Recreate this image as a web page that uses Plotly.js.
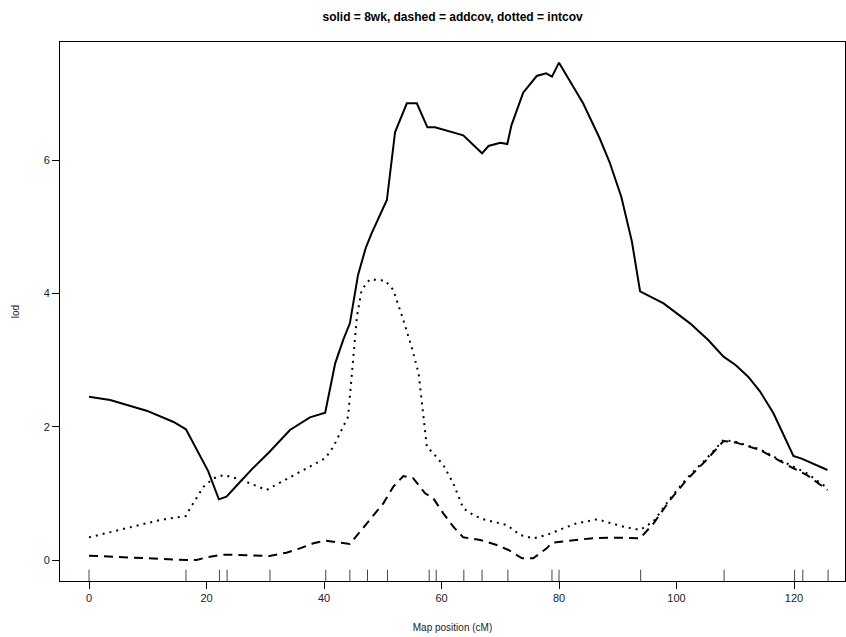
<!DOCTYPE html>
<html>
<head>
<meta charset="utf-8">
<script src="https://cdn.plot.ly/plotly-3.0.1.min.js"></script>
<style>
  html, body { margin: 0; padding: 0; background: #fff; }
  #chart { width: 846px; height: 637px; }
</style>
</head>
<body>
<div id="chart"></div>
<script>
// solid = 8wk
const solidPos = [0, 3.6, 9.8, 14.4, 16.5, 20.3, 22.1, 23.4, 25.7, 27.7, 30.7, 34.2, 37.6, 40.2,
  41.9, 43.3, 44.4, 45.8, 47.1, 48.1, 50.7, 52.1, 54.1, 55.8, 57.6, 58.9, 63.7, 66.9, 68.0, 70.0,
  71.2, 71.9, 73.9, 76.2, 77.8, 78.8, 80.0, 82.4, 84.1, 86.9, 88.6, 90.6, 92.4, 93.8, 97.8, 102.3,
  105.4, 108.0, 110.0, 112.2, 114.2, 116.5, 119.9, 121.3, 125.7];
const solidLod = [2.45, 2.40, 2.24, 2.07, 1.96, 1.33, 0.91, 0.95, 1.17, 1.36, 1.62, 1.95, 2.14, 2.21,
  2.95, 3.31, 3.55, 4.28, 4.68, 4.90, 5.40, 6.42, 6.85, 6.85, 6.49, 6.49, 6.37, 6.10, 6.21, 6.26,
  6.24, 6.52, 7.01, 7.26, 7.30, 7.25, 7.46, 7.10, 6.85, 6.33, 5.97, 5.45, 4.78, 4.03, 3.85, 3.55,
  3.30, 3.05, 2.93, 2.75, 2.53, 2.20, 1.56, 1.52, 1.35];

// dashed = addcov
const dashedPos = [0, 6.4, 12.1, 16.5, 18.3, 20.0, 22.3, 23.5, 30.7, 33.6, 35.9, 38.2, 40.2, 44.4,
  47.3, 50.1, 51.8, 53.5, 55.2, 57.2, 58.6, 60.3, 62.0, 63.7, 66.6, 69.4, 71.4, 73.7, 75.6, 77.9,
  78.8, 80.0, 86.0, 91.0, 93.8, 96.1, 98.9, 101.7, 105.1, 108.0, 110.2, 114.2, 117.6, 119.9, 122.2, 125.7];
const dashedLod = [0.065, 0.04, 0.01, 0.0, 0.0, 0.04, 0.075, 0.08, 0.06, 0.11, 0.175, 0.25, 0.29, 0.24,
  0.55, 0.85, 1.10, 1.26, 1.225, 1.0, 0.925, 0.70, 0.50, 0.34, 0.30, 0.225, 0.15, 0.025, 0.025, 0.175,
  0.26, 0.27, 0.33, 0.335, 0.325, 0.55, 0.90, 1.20, 1.50, 1.785, 1.76, 1.65, 1.485, 1.375, 1.275, 1.05];

// dotted = intcov
const dottedPos = [0, 6.4, 12.1, 16.5, 17.2, 19.5, 21.2, 22.9, 25.7, 30.2, 34.8, 36.5, 40.2, 41.6,
  44.1, 44.5, 45.0, 45.6, 46.4, 47.8, 50.4, 51.8, 53.5, 54.9, 56.1, 56.6, 57.5, 58.6, 60.3, 62.0,
  63.7, 65.4, 67.1, 71.1, 73.4, 75.6, 77.9, 80.0, 83.0, 86.5, 91.0, 93.8, 96.1, 98.9, 101.7, 105.1,
  108.0, 110.2, 114.2, 117.6, 119.9, 122.2, 125.7];
const dottedLod = [0.34, 0.475, 0.60, 0.66, 0.775, 1.10, 1.225, 1.275, 1.21, 1.05, 1.275, 1.35, 1.525, 1.70,
  2.15, 2.55, 3.15, 3.65, 4.05, 4.21, 4.19, 4.05, 3.60, 3.20, 2.80, 2.40, 1.70, 1.60, 1.425, 1.15,
  0.775, 0.675, 0.61, 0.525, 0.375, 0.325, 0.375, 0.45, 0.55, 0.61, 0.50, 0.45, 0.58, 0.92, 1.22, 1.52,
  1.80, 1.77, 1.66, 1.50, 1.40, 1.30, 1.08];

// marker positions (rug)
const markerPos = [0, 16.5, 22.2, 23.5, 30.8, 40.3, 44.4, 47.4, 50.8, 57.9, 59.1, 63.8, 66.9, 71.3,
  78.8, 80.0, 93.9, 108.1, 120.1, 121.5, 125.8];

const xTicks = [0, 20, 40, 60, 80, 100, 120];
const yTicks = [0, 2, 4, 6];

const traces = [
  { x: solidPos, y: solidLod, type: 'scatter', mode: 'lines', name: '8wk',
    line: { color: '#000', width: 2 } },
  { x: dashedPos, y: dashedLod, type: 'scatter', mode: 'lines', name: 'addcov',
    line: { color: '#000', width: 2, dash: '9px,6px' } },
  { x: dottedPos, y: dottedLod, type: 'scatter', mode: 'lines', name: 'intcov',
    line: { color: '#000', width: 2, dash: '2px,5px' } }
];

const rug = markerPos.map(p => ({
  type: 'line', xref: 'x', yref: 'paper', x0: p, x1: p, y0: 0, y1: 0.021,
  line: { color: '#444', width: 1 }
}));

const axisFont = { family: 'Liberation Sans, Arial, sans-serif', size: 11, color: '#222' };

const layout = {
  width: 846, height: 637,
  margin: { l: 60, r: 1, t: 42, b: 56 },
  paper_bgcolor: '#fff', plot_bgcolor: '#fff',
  showlegend: false,
  title: {
    text: '<b>solid = 8wk, dashed = addcov, dotted = intcov</b>',
    font: { family: 'Liberation Sans, Arial, sans-serif', size: 12, color: '#000' },
    x: 0.535, xanchor: 'center', y: 1 - 17 / 637, yref: 'container', yanchor: 'middle'
  },
  xaxis: {
    range: [-4.94, 128.68], showgrid: false, zeroline: false,
    showline: true, mirror: true, linecolor: '#000', linewidth: 1,
    ticks: 'outside', ticklen: 7, tickcolor: '#000', tickwidth: 1,
    tickvals: xTicks, ticktext: xTicks.map(String), tickfont: axisFont,
    title: { text: 'Map position (cM)', font: { family: 'Liberation Sans, Arial, sans-serif', size: 10, color: '#222' }, standoff: 20 }
  },
  yaxis: {
    range: [-0.315, 7.77], showgrid: false, zeroline: false,
    showline: true, mirror: true, linecolor: '#000', linewidth: 1,
    ticks: 'outside', ticklen: 7, tickcolor: '#000', tickwidth: 1,
    tickvals: yTicks, ticktext: yTicks.map(String), tickfont: axisFont,
    title: { text: 'lod', font: { family: 'Liberation Sans, Arial, sans-serif', size: 10, color: '#222' }, standoff: 22 }
  },
  shapes: rug
};

Plotly.newPlot('chart', traces, layout, { staticPlot: true });
</script>
</body>
</html>
